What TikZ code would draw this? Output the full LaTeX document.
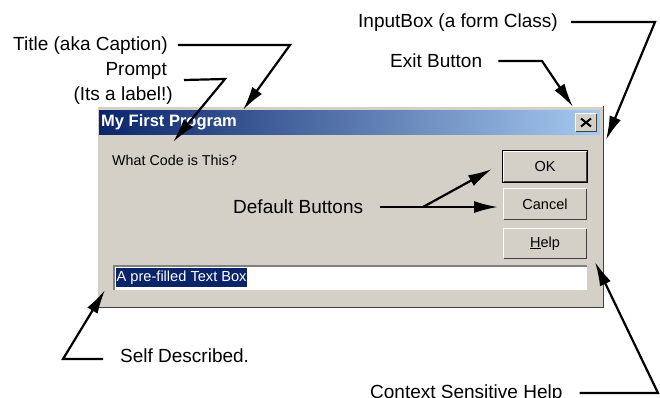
\documentclass[tikz,border=0pt]{standalone}
\usepackage{fontspec}
\setmainfont{Liberation Sans}
\usetikzlibrary{arrows.meta}
\definecolor{winface}{HTML}{D4D0C8}
\definecolor{windark}{HTML}{404040}
\definecolor{winshadow}{HTML}{808080}
\definecolor{tbdark}{RGB}{10,36,106}
\definecolor{tblight}{RGB}{166,202,240}
\definecolor{selblue}{RGB}{10,36,106}
\newcommand\winraise[1]{%
  \draw[white,line width=1.5pt] ([shift={(0.75pt,0.75pt)}]#1.south west) -- ([shift={(0.75pt,-0.75pt)}]#1.north west) -- ([shift={(-0.75pt,-0.75pt)}]#1.north east);
  \draw[windark,line width=1.5pt] ([shift={(0.75pt,0.75pt)}]#1.south west) -- ([shift={(-0.75pt,0.75pt)}]#1.south east) -- ([shift={(-0.75pt,-0.75pt)}]#1.north east);
}
\newcommand\winsink[1]{%
  \draw[white,line width=1.5pt] ([shift={(0.75pt,0.75pt)}]#1.south west) -- ([shift={(-0.75pt,0.75pt)}]#1.south east) -- ([shift={(-0.75pt,-0.75pt)}]#1.north east);
  \draw[winshadow,line width=1.5pt] ([shift={(0.75pt,0.75pt)}]#1.south west) -- ([shift={(0.75pt,-0.75pt)}]#1.north west) -- ([shift={(-0.75pt,-0.75pt)}]#1.north east);
}
\begin{document}
\begin{tikzpicture}[x=1pt,y=-1pt,
  lbl/.style={font=\fontsize{19}{23}\selectfont, inner sep=0pt},
  arr/.style={line width=2.2pt, -{Latex[length=24pt,width=12pt]}},
  plainline/.style={line width=2.2pt},
  btn/.style={fill=winface, minimum width=84pt, minimum height=31pt, inner sep=0pt, font=\fontsize{14.5}{16}\selectfont}]
\useasboundingbox[fill=white] (0,0) rectangle (660,397);
% dialog
\node[fill=winface, minimum width=508pt, minimum height=203pt, anchor=north west, inner sep=0pt] (dialog) at (96,105) {};
\winraise{dialog}
\node[anchor=north west, minimum width=501pt, minimum height=24pt, inner sep=0pt, left color=tbdark, right color=tblight] (titlebar) at (99,110) {};
\node[anchor=west, text=white, font=\bfseries\fontsize{16.5}{18}\selectfont, inner sep=0pt] (title) at (101,122) {My First Program};
\node[fill=winface, minimum width=22pt, minimum height=19pt, inner sep=0pt] (closebtn) at (586,122.5) {};
\winraise{closebtn}
\draw[line width=2pt] ([shift={(-5pt,4pt)}]closebtn.center) -- ([shift={(5pt,-4pt)}]closebtn.center)
  ([shift={(-5pt,-4pt)}]closebtn.center) -- ([shift={(5pt,4pt)}]closebtn.center);
\node[anchor=west, font=\fontsize{14.3}{16}\selectfont, inner sep=0pt] (prompttext) at (112,160) {What Code is This?};
% buttons
\node[btn] (okbtn) at (545,166.5) {OK};
\winraise{okbtn}
\draw[line width=1.3pt] ([shift={(-0.6pt,-0.6pt)}]okbtn.south west) rectangle ([shift={(0.6pt,0.6pt)}]okbtn.north east);
\node[btn, minimum height=32pt] (cancelbtn) at (545,204) {Cancel};
\winraise{cancelbtn}
\node[btn] (helpbtn) at (545,243.5) {\underline{H}elp};
\winraise{helpbtn}
% text box
\node[anchor=north west, fill=white, minimum width=474pt, minimum height=25pt, inner sep=0pt] (textbox) at (113,265) {};
\winsink{textbox}
\node[anchor=west, fill=selblue, text=white, minimum height=19pt, inner xsep=0.5pt, inner ysep=0pt, font=\fontsize{14.6}{16}\selectfont] (seltext) at (116,277.5) {A pre-filled Text Box};
% labels
\node[lbl, anchor=base west] (ttl) at (13,50) {Title (aka Caption)};
\node[lbl, anchor=base east] (prmA) at (167,75) {Prompt};
\node[lbl, anchor=base east] (prmB) at (173,100) {(Its a label!)};
\node[lbl, anchor=base west] (inb) at (358,27) {InputBox (a form Class)};
\node[lbl, anchor=base west] (exb) at (390,67) {Exit Button};
\node[lbl, anchor=base west] (dfb) at (233,213) {Default Buttons};
\node[lbl, anchor=base west] (slf) at (120,362) {Self Described.};
\node[lbl, anchor=base west] (csh) at (370,398) {Context Sensitive Help};
% connector points
\coordinate (ttlbend) at (290,45);
\coordinate (ttltip) at (243,110);
\coordinate (prmbend) at (225,79);
\coordinate (prmtip) at (173,142);
\coordinate (inbbend) at (655,22);
\coordinate (inbtip) at (606,140);
\coordinate (exbbend) at (542,61);
\coordinate (exbtip) at (573,107);
\coordinate (dfbsplit) at (423,207);
\coordinate (oktip) at (492,169);
\coordinate (canceltip) at (498,207);
\coordinate (slfbend) at (63,359);
\coordinate (slftip) at (105,290);
\coordinate (cshbend) at (658,393);
\coordinate (cshtip) at (595,262);
% connectors
\draw[arr] ([shift={(10pt,5pt)}]ttl.base east) -- (ttlbend) -- (ttltip);
\draw[arr] ([shift={(11pt,20pt)}]prmB.base east) -- (prmbend) -- (prmtip);
\draw[arr] ([shift={(13pt,5pt)}]inb.base east) -- (inbbend) -- (inbtip);
\draw[arr] ([shift={(16pt,6pt)}]exb.base east) -- (exbbend) -- (exbtip);
\draw[plainline] ([shift={(17pt,6pt)}]dfb.base east) -- (dfbsplit);
\draw[arr] (dfbsplit) -- (oktip);
\draw[arr] (dfbsplit) -- (canceltip);
\draw[arr] ([shift={(-17pt,3pt)}]slf.base west) -- (slfbend) -- (slftip);
\draw[arr] ([shift={(17pt,5pt)}]csh.base east) -- (cshbend) -- (cshtip);
\end{tikzpicture}
\end{document}
